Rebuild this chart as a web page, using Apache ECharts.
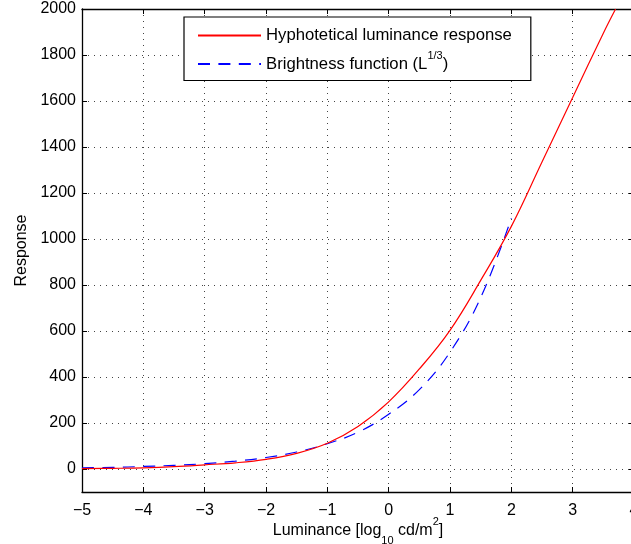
<!DOCTYPE html>
<html>
<head>
<meta charset="utf-8">
<script src="https://cdn.jsdelivr.net/npm/echarts@6/dist/echarts.min.js"></script>
<style>
html,body{margin:0;padding:0;background:#fff;}
#c{width:631px;height:544px;}
</style>
</head>
<body>
<div id="c"></div>
<script>
// Data
const redX = [-5, -4.5, -4, -3.5, -3, -2.5, -2, -1.5, -1, -0.5, 0, 0.5, 1, 1.5, 2, 2.5, 3, 3.5, 3.7];
const redY = [2, 3, 5, 10, 18, 27, 42, 68, 112, 185, 292, 435, 603, 820, 1055, 1335, 1615, 1895, 2000];
const blueX = [-5, -4.5, -4, -3.5, -3, -2.5, -2, -1.5, -1, -0.5, 0, 0.5, 1, 1.5, 2];
const blueY = [5, 7, 11, 16, 23, 34, 50, 74, 110, 160, 238, 345, 508, 745, 1090];
const yTicks = [0, 200, 400, 600, 800, 1000, 1200, 1400, 1600, 1800, 2000];
const seriesNames = ['Hyphotetical luminance response', 'Brightness function (L1/3)'];

const FONT = '"Liberation Sans", Arial, Helvetica, sans-serif';
const pair = (xs, ys) => xs.map((x, i) => [x, ys[i]]);
const fmtX = v => (v < 0 ? '\u2212' + (-v) : String(v));
const fmtY = v => String(v);

const chart = echarts.init(document.getElementById('c'), null, {renderer: 'canvas'});
const splitDots = {show: true, lineStyle: {color: '#444', width: 1, type: [1, 5]}};
const axLine = {show: true, onZero: false, lineStyle: {color: '#000', width: 1.3}};
const tickIn = {show: true, inside: true, length: 5, lineStyle: {color: '#000', width: 1}};

chart.setOption({
  animation: false,
  backgroundColor: '#fff',
  textStyle: {fontFamily: FONT, color: '#000'},
  grid: {left: 82, top: 9, width: 552, height: 483, containLabel: false, outerBoundsMode: 'none'},
  legend: {
    orient: 'vertical',
    left: 184, top: 17,
    padding: [10, 19, 8, 13],
    itemWidth: 63, itemHeight: 14, itemGap: 6,
    backgroundColor: '#fff', borderColor: '#000', borderWidth: 1.2, borderRadius: 0,
    itemStyle: {opacity: 0, borderWidth: 0},
    data: seriesNames,
    formatter: function (n) {
      if (n === seriesNames[1]) return '{n|Brightness function (L}{s|1/3}{n|)}';
      return '{n|' + n + '}';
    },
    textStyle: {
      fontFamily: FONT, color: '#000', fontSize: 16.7,
      rich: {
        n: {fontFamily: FONT, fontSize: 16.7, color: '#000', lineHeight: 28},
        s: {fontFamily: FONT, fontSize: 11, color: '#000', lineHeight: 10, verticalAlign: 'top'}
      }
    }
  },
  xAxis: [{
    type: 'value', min: -5, max: 4, interval: 1, position: 'bottom',
    axisLine: axLine, axisTick: tickIn, splitLine: splitDots,
    axisLabel: {fontFamily: FONT, fontSize: 16, color: '#000', margin: 11, formatter: fmtX, hideOverlap: false},
    name: '{a|Luminance [log}{sub|10}{a| cd/m}{sup|2}{a|]}',
    nameLocation: 'middle', nameGap: 24, nameMoveOverlap: false,
    nameTextStyle: {
      fontFamily: FONT, color: '#000', fontSize: 16,
      rich: {
        a: {fontFamily: FONT, fontSize: 16, color: '#000', lineHeight: 30},
        sub: {fontFamily: FONT, fontSize: 11, color: '#000', lineHeight: 20, verticalAlign: 'bottom'},
        sup: {fontFamily: FONT, fontSize: 11, color: '#000', lineHeight: 16, verticalAlign: 'top'}
      }
    }
  }, {
    type: 'value', min: -5, max: 4, interval: 1, position: 'top',
    axisLine: axLine, axisTick: tickIn, splitLine: {show: false}, axisLabel: {show: false}
  }],
  yAxis: [{
    type: 'value', min: -100, max: 2000, position: 'left',
    axisLine: axLine,
    axisTick: Object.assign({}, tickIn, {customValues: yTicks}),
    splitLine: splitDots,
    axisLabel: {fontFamily: FONT, fontSize: 16, color: '#000', margin: 6, customValues: yTicks, formatter: fmtY, padding: [4, 0, 0, 0]},
    name: 'Response', nameLocation: 'middle', nameGap: 52, nameMoveOverlap: false,
    nameTextStyle: {fontFamily: FONT, fontSize: 16, color: '#000'}
  }, {
    type: 'value', min: -100, max: 2000, position: 'right',
    axisLine: axLine,
    axisTick: Object.assign({}, tickIn, {customValues: yTicks}),
    splitLine: {show: false}, axisLabel: {show: false}
  }],
  series: [{
    name: seriesNames[0], type: 'line', data: pair(redX, redY),
    xAxisIndex: 0, yAxisIndex: 0,
    smooth: 0.4, showSymbol: false, symbol: 'none',
    lineStyle: {color: '#ff0000', width: 1.2},
    itemStyle: {color: '#ff0000'}, clip: true, z: 3
  }, {
    name: seriesNames[1], type: 'line', data: pair(blueX, blueY),
    xAxisIndex: 0, yAxisIndex: 0,
    smooth: 0.4, showSymbol: false, symbol: 'none',
    lineStyle: {color: '#0000ff', width: 1.2, type: [12, 8.4]},
    itemStyle: {color: '#0000ff'}, clip: true, z: 2
  }]
});
</script>
</body>
</html>
